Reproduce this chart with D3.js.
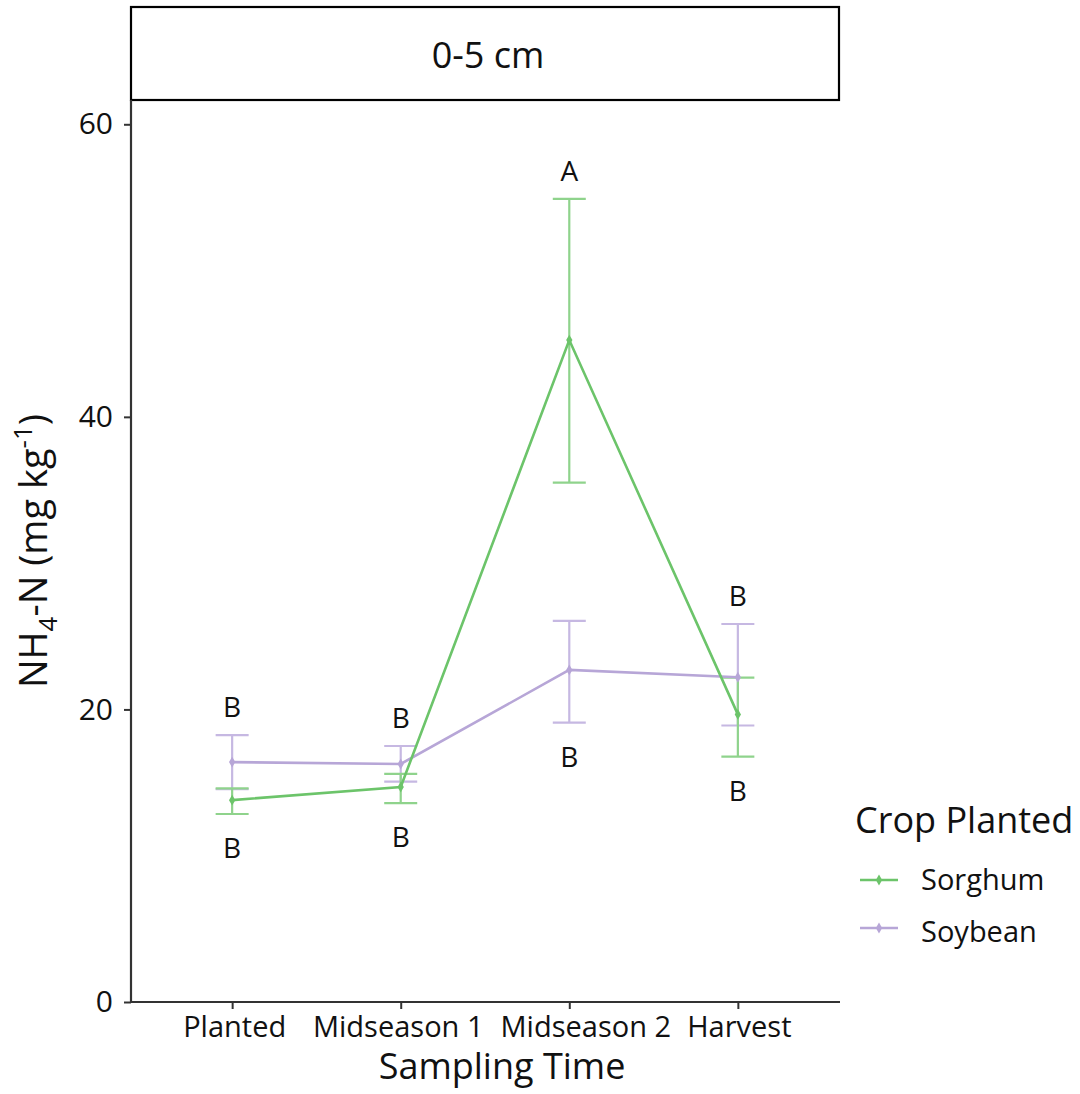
<!DOCTYPE html>
<html>
<head>
<meta charset="utf-8">
<script src="https://cdn.jsdelivr.net/npm/d3@7"></script>
<style>
  html, body { margin: 0; padding: 0; background: #fff; }
  svg text { font-family: "Open Sans", "Noto Sans", sans-serif; fill: #111; }
</style>
</head>
<body>
<svg id="chart" width="1080" height="1094"></svg>
<script>
// Sampling times on the x axis
const times = ["Planted", "Midseason 1", "Midseason 2", "Harvest"];

// Mean NH4-N (mg/kg) and error-bar limits for each crop
const sorghumMean  = [13.8, 14.7, 45.25, 19.66];
const sorghumLower = [12.85, 13.6, 35.5, 16.77];
const sorghumUpper = [14.6, 15.6, 54.9, 22.17];

const soybeanMean  = [16.4, 16.27, 22.7, 22.2];
const soybeanLower = [14.55, 15.06, 19.1, 18.9];
const soybeanUpper = [18.25, 17.5, 26.06, 25.84];

// Mean-separation letters; sorghum letters sit below its bars, soybean above
// (except at Midseason 2 where the sorghum "A" is above and soybean "B" below)
const sorghumLetters = ["B", "B", "A", "B"];
const sorghumLetterSide = ["below", "below", "above", "below"];
const soybeanLetters = ["B", "B", "B", "B"];
const soybeanLetterSide = ["above", "above", "below", "above"];

const yTicks = [0, 20, 40, 60];

const crops = ["Sorghum", "Soybean"];
const lineColors = ["#6cc46a", "#b7a6d7"];
const barColors  = ["#8fd38c", "#c6b8e2"];

const series = [
  { name: crops[0], mean: sorghumMean, lo: sorghumLower, hi: sorghumUpper,
    letters: sorghumLetters, side: sorghumLetterSide, line: lineColors[0], bar: barColors[0] },
  { name: crops[1], mean: soybeanMean, lo: soybeanLower, hi: soybeanUpper,
    letters: soybeanLetters, side: soybeanLetterSide, line: lineColors[1], bar: barColors[1] }
];

const svg = d3.select("#chart");
const panel = { left: 131, right: 839, top: 100, bottom: 1002 };

const x = d3.scalePoint().domain(times).range([panel.left, panel.right]).padding(0.6);
const y = d3.scaleLinear().domain([0, 61.66]).range([panel.bottom, panel.top]);

// Facet strip
svg.append("rect")
  .attr("x", panel.left).attr("y", 7)
  .attr("width", panel.right - panel.left).attr("height", panel.top - 7)
  .attr("fill", "#fff").attr("stroke", "#000").attr("stroke-width", 2.2);
svg.append("text")
  .attr("x", (panel.left + panel.right) / 2 + 3).attr("y", 54)
  .attr("text-anchor", "middle").attr("dominant-baseline", "central")
  .attr("font-size", 36).text("0-5 cm");

// Axes
const yAxis = d3.axisLeft(y).tickValues(yTicks).tickSize(7).tickPadding(11);
const gy = svg.append("g").attr("transform", `translate(${panel.left},0)`).call(yAxis);
gy.select(".domain").remove();
gy.selectAll(".tick line").attr("stroke", "#333").attr("stroke-width", 2);
gy.selectAll(".tick text").attr("font-size", 30).attr("fill", "#111");

// The two midseason labels are pulled apart slightly so they do not collide
const labelNudge = { "Planted": 2, "Midseason 1": -3, "Midseason 2": 16, "Harvest": 1 };
const xAxis = d3.axisBottom(x).tickSize(7);
const gx = svg.append("g").attr("transform", `translate(0,${panel.bottom})`).call(xAxis);
gx.select(".domain").remove();
gx.selectAll(".tick line").attr("stroke", "#333").attr("stroke-width", 2);
gx.selectAll(".tick text")
  .attr("y", 35).attr("dy", null).attr("dx", d => labelNudge[d] || 0)
  .attr("font-size", 29).attr("fill", "#111");

svg.append("line")
  .attr("x1", panel.left).attr("x2", panel.left)
  .attr("y1", panel.top).attr("y2", panel.bottom + 1)
  .attr("stroke", "#333").attr("stroke-width", 2.2);
svg.append("line")
  .attr("x1", panel.left - 1).attr("x2", panel.right + 1)
  .attr("y1", panel.bottom).attr("y2", panel.bottom)
  .attr("stroke", "#333").attr("stroke-width", 2.2);

// Axis titles
svg.append("text")
  .attr("x", 502).attr("y", 1079)
  .attr("text-anchor", "middle").attr("font-size", 36).text("Sampling Time");

const yt = svg.append("text")
  .attr("transform", `translate(47,551) rotate(-90)`)
  .attr("text-anchor", "middle").attr("font-size", 38);
yt.append("tspan").text("NH");
yt.append("tspan").attr("font-size", 26).attr("dy", 10).text("4");
yt.append("tspan").attr("dy", -10).text("-N (mg kg");
yt.append("tspan").attr("font-size", 26).attr("dy", -15).text("-1");
yt.append("tspan").attr("dy", 15).text(")");

// Error bars, lines and points
const capHalf = 16.5;
const drawOrder = [series[1], series[0]];

drawOrder.forEach(s => {
  const g = svg.append("g");
  times.forEach((t, i) => {
    const cx = x(t);
    g.append("line").attr("x1", cx).attr("x2", cx)
      .attr("y1", y(s.lo[i])).attr("y2", y(s.hi[i]))
      .attr("stroke", s.bar).attr("stroke-width", 2.2);
    [s.lo[i], s.hi[i]].forEach(v => {
      g.append("line").attr("x1", cx - capHalf).attr("x2", cx + capHalf)
        .attr("y1", y(v)).attr("y2", y(v))
        .attr("stroke", s.bar).attr("stroke-width", 2.2);
    });
  });
});

drawOrder.forEach(s => {
  const line = d3.line().x((d, i) => x(times[i])).y(d => y(d));
  svg.append("path").datum(s.mean)
    .attr("d", line).attr("fill", "none")
    .attr("stroke", s.line).attr("stroke-width", 2.6);
  svg.append("g").selectAll("path").data(s.mean).join("path")
    .attr("d", d3.symbol(d3.symbolDiamond, 34))
    .attr("transform", (d, i) => `translate(${x(times[i])},${y(d)})`)
    .attr("fill", s.line);
});

// Significance letters
series.forEach(s => {
  times.forEach((t, i) => {
    const above = s.side[i] === "above";
    const yy = above ? y(s.hi[i]) - 29 : y(s.lo[i]) + 33;
    svg.append("text")
      .attr("x", x(t)).attr("y", yy)
      .attr("text-anchor", "middle").attr("dominant-baseline", "central")
      .attr("font-size", 28).text(s.letters[i]);
  });
});

// Legend
const lg = svg.append("g").attr("transform", "translate(855,0)");
lg.append("text").attr("x", 0).attr("y", 833).attr("font-size", 36).text("Crop Planted");
series.forEach((s, i) => {
  const yy = 880 + i * 48;
  lg.append("line").attr("x1", 5).attr("x2", 43).attr("y1", yy).attr("y2", yy)
    .attr("stroke", s.line).attr("stroke-width", 2.6);
  lg.append("path").attr("d", d3.symbol(d3.symbolDiamond, 34))
    .attr("transform", `translate(24,${yy})`).attr("fill", s.line);
  lg.append("text").attr("x", 66).attr("y", yy - 2 + i * 4).attr("dominant-baseline", "central")
    .attr("font-size", 29).text(s.name);
});
</script>
</body>
</html>
